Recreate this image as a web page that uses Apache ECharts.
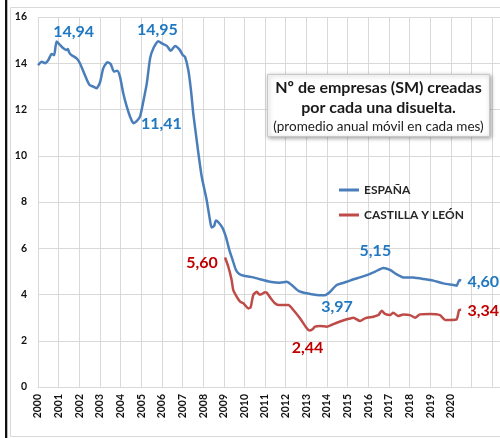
<!DOCTYPE html>
<html>
<head>
<meta charset="utf-8">
<script src="https://cdn.jsdelivr.net/npm/echarts@6/dist/echarts.min.js"></script>
<style>
    html, body { margin: 0; padding: 0; background: #ffffff; }
    #chart { width: 500px; height: 438px; }
</style>
</head>
<body>
<div id="chart"></div>
<script>
// Series names
const seriesNames = ['ESPAÑA', 'CASTILLA Y LEÓN'];

// España: [year, ratio] (promedio anual móvil)
const espana = [
    [2000.00, 13.92], [2000.18, 14.07], [2000.34, 14.00], [2000.50, 14.14], [2000.66, 14.40],
    [2000.78, 14.35], [2000.90, 14.94], [2001.07, 14.79], [2001.23, 14.65], [2001.39, 14.57],
    [2001.45, 14.62], [2001.52, 14.45], [2001.63, 14.35], [2001.87, 14.21], [2002.03, 14.00],
    [2002.20, 13.64], [2002.36, 13.30], [2002.50, 13.06], [2002.68, 12.99], [2002.84, 12.92],
    [2003.00, 13.16], [2003.16, 13.78], [2003.36, 14.04], [2003.52, 13.97], [2003.68, 13.64],
    [2003.84, 13.68], [2003.97, 13.42], [2004.13, 12.70], [2004.30, 12.12], [2004.46, 11.69],
    [2004.62, 11.41], [2004.78, 11.50], [2004.94, 11.69], [2005.10, 12.34], [2005.27, 13.13],
    [2005.43, 14.21], [2005.59, 14.65], [2005.83, 14.95], [2006.00, 14.86], [2006.24, 14.75],
    [2006.43, 14.54], [2006.64, 14.75], [2006.85, 14.60], [2007.01, 14.36], [2007.12, 14.28],
    [2007.28, 13.71], [2007.41, 12.84], [2007.52, 11.84], [2007.64, 11.00], [2007.77, 10.10],
    [2007.93, 9.10], [2008.17, 8.09], [2008.33, 7.22], [2008.41, 6.90], [2008.53, 6.96],
    [2008.62, 7.20], [2008.78, 7.08], [2008.95, 6.86], [2009.10, 6.50], [2009.27, 5.92],
    [2009.43, 5.49], [2009.59, 5.06], [2009.75, 4.89], [2010.03, 4.80], [2010.43, 4.74],
    [2010.76, 4.66], [2011.24, 4.55], [2011.72, 4.51], [2012.05, 4.55], [2012.29, 4.41],
    [2012.61, 4.16], [2013.02, 4.05], [2013.50, 3.98], [2013.90, 3.97], [2014.15, 4.12],
    [2014.47, 4.41], [2014.96, 4.55], [2015.28, 4.66], [2015.60, 4.74], [2015.93, 4.84],
    [2016.33, 4.99], [2016.73, 5.15], [2017.05, 5.06], [2017.38, 4.87], [2017.70, 4.74],
    [2018.18, 4.73], [2018.67, 4.67], [2019.15, 4.60], [2019.64, 4.48], [2020.12, 4.41],
    [2020.28, 4.38], [2020.41, 4.63], [2020.50, 4.60]
];

// Castilla y León: [year, ratio]
const castilla = [
    [2009.06, 5.60], [2009.22, 5.20], [2009.38, 4.63], [2009.46, 4.19], [2009.63, 3.90],
    [2009.79, 3.69], [2009.95, 3.62], [2010.19, 3.40], [2010.30, 3.45], [2010.43, 3.98],
    [2010.60, 4.12], [2010.72, 4.00], [2010.84, 4.02], [2011.00, 4.10], [2011.08, 4.08],
    [2011.27, 3.84], [2011.48, 3.62], [2011.64, 3.55], [2012.13, 3.55], [2012.37, 3.33],
    [2012.69, 2.97], [2013.02, 2.54], [2013.15, 2.44], [2013.30, 2.50], [2013.42, 2.61],
    [2013.66, 2.64], [2013.99, 2.61], [2014.47, 2.78], [2014.96, 2.93], [2015.28, 3.00],
    [2015.60, 2.85], [2015.84, 2.97], [2016.25, 3.04], [2016.49, 3.11], [2016.65, 3.30],
    [2016.81, 3.16], [2017.05, 3.11], [2017.21, 3.21], [2017.45, 3.07], [2017.70, 3.14],
    [2018.02, 3.11], [2018.27, 3.00], [2018.50, 3.14], [2018.99, 3.16], [2019.47, 3.11],
    [2019.72, 2.90], [2019.96, 2.90], [2020.28, 2.93], [2020.40, 3.33], [2020.50, 3.34]
];

// Highlighted values: [year, value]
const espanaMarks = [[2000.90, 14.94], [2005.83, 14.95], [2004.62, 11.41], [2013.90, 3.97], [2016.73, 5.15], [2020.50, 4.60]];
const castillaMarks = [[2009.06, 5.60], [2013.15, 2.44], [2020.50, 3.34]];

// Label offsets for the highlighted values (same order as above)
const espanaOffsets = [[17, -10], [-1, -11], [28, 1], [12, 12], [-8, -17], [22, 1]];
const castillaOffsets = [[-23, 5], [-2, 17], [22, 1]];

const FONT = 'Lato, "Noto Sans", sans-serif';
const BLUE = '#4a7ebb';
const RED = '#be4b48';

function fmt(v) {
    return v.toFixed(2).replace('.', ',');
}

function buildMarks(points, offsets, color) {
    return {
        symbol: 'circle',
        symbolSize: 1,
        itemStyle: { color: 'rgba(0,0,0,0)' },
        label: {
            show: true,
            position: 'inside',
            fontFamily: FONT,
            fontWeight: 'bold',
            fontSize: 16,
            color: color
        },
        data: points.map((p, i) => ({
            coord: p,
            value: fmt(p[1]),
            label: { offset: offsets[i], formatter: fmt(p[1]) }
        }))
    };
}

const chart = echarts.init(document.getElementById('chart'));

chart.setOption({
    backgroundColor: '#ffffff',
    animation: false,
    grid: { left: 38, right: 0, top: 17, bottom: 51 },
    legend: {
        data: seriesNames,
        orient: 'vertical',
        left: 334,
        top: 179,
        itemGap: 13,
        itemWidth: 20,
        itemHeight: 3,
        icon: 'rect',
        textStyle: { fontFamily: FONT, fontWeight: 'bold', fontSize: 12, color: '#262626' }
    },
    xAxis: {
        type: 'value',
        min: 2000,
        max: 2022.38,
        interval: 1,
        axisLine: { show: true, lineStyle: { color: '#d9d9d9' } },
        axisTick: { show: false },
        splitLine: { show: true, lineStyle: { color: '#d9d9d9', width: 1 } },
        axisLabel: {
            rotate: 90,
            margin: 7,
            fontFamily: FONT,
            fontWeight: 'bold',
            fontSize: 10.5,
            color: '#111111',
            showMaxLabel: false,
            formatter: v => (v <= 2020 ? String(v) : '')
        }
    },
    yAxis: {
        type: 'value',
        min: 0,
        max: 16,
        interval: 2,
        axisLine: { show: false },
        axisTick: { show: false },
        splitLine: { show: true, lineStyle: { color: '#d9d9d9', width: 1 } },
        axisLabel: {
            margin: 11,
            fontFamily: FONT,
            fontWeight: 'bold',
            fontSize: 10.5,
            color: '#111111'
        }
    },
    series: [
        {
            name: seriesNames[0],
            type: 'line',
            data: espana,
            showSymbol: false,
            smooth: 0.2,
            color: BLUE,
            lineStyle: { width: 2.5, color: BLUE },
            markPoint: buildMarks(espanaMarks, espanaOffsets, '#1f78c1')
        },
        {
            name: seriesNames[1],
            type: 'line',
            data: castilla,
            showSymbol: false,
            smooth: 0.2,
            color: RED,
            lineStyle: { width: 2.5, color: RED },
            markPoint: buildMarks(castillaMarks, castillaOffsets, '#c00000')
        }
    ],
    graphic: [
        // chart frame
        {
            type: 'rect',
            silent: true,
            z: 100,
            shape: { x: 10.5, y: 7.5, width: 495, height: 429 },
            style: { fill: 'none', stroke: '#d9d9d9', lineWidth: 1 }
        },
        {
            type: 'rect',
            silent: true,
            z: 100,
            shape: { x: 5, y: 0, width: 2.3, height: 438 },
            style: { fill: '#111111' }
        },
        // title box
        {
            type: 'group',
            left: 267,
            top: 74,
            z: 100,
            children: [
                {
                    type: 'rect',
                    z: 100,
                    shape: { x: 0, y: 0, width: 222, height: 62 },
                    style: {
                        fill: '#ffffff',
                        stroke: '#c8c8c8',
                        lineWidth: 1,
                        shadowBlur: 4,
                        shadowOffsetX: 1,
                        shadowOffsetY: 1,
                        shadowColor: 'rgba(0,0,0,0.35)'
                    }
                },
                {
                    type: 'text',
                    z: 101,
                    x: 111,
                    y: 13,
                    style: {
                        text: 'Nº de empresas (SM) creadas',
                        fontFamily: FONT,
                        fontWeight: 'bold',
                        fontSize: 16,
                        fill: '#1a1a1a',
                        align: 'center',
                        verticalAlign: 'middle'
                    }
                },
                {
                    type: 'text',
                    z: 101,
                    x: 111,
                    y: 33,
                    style: {
                        text: 'por cada una disuelta.',
                        fontFamily: FONT,
                        fontWeight: 'bold',
                        fontSize: 16,
                        fill: '#1a1a1a',
                        align: 'center',
                        verticalAlign: 'middle'
                    }
                },
                {
                    type: 'text',
                    z: 101,
                    x: 111,
                    y: 52,
                    style: {
                        text: '(promedio anual móvil en cada mes)',
                        fontFamily: FONT,
                        fontSize: 13.5,
                        fill: '#1a1a1a',
                        align: 'center',
                        verticalAlign: 'middle'
                    }
                }
            ]
        }
    ]
});
</script>
</body>
</html>
